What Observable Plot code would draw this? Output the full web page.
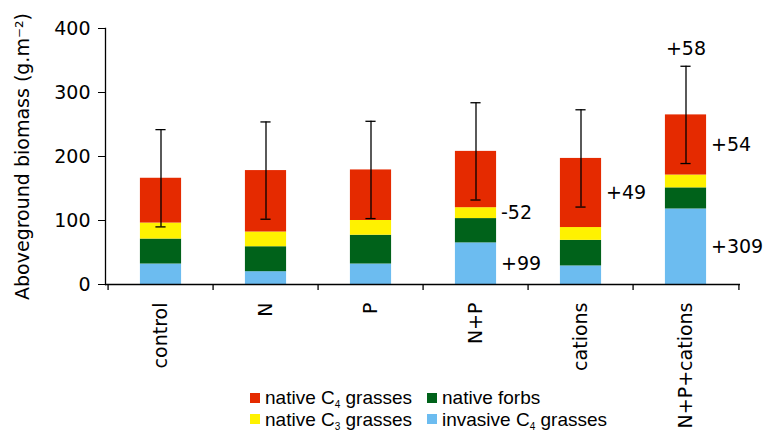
<!DOCTYPE html>
<html><head><meta charset="utf-8">
<script src="https://cdn.jsdelivr.net/npm/d3@7"></script>
<script src="https://cdn.jsdelivr.net/npm/@observablehq/plot@0.6"></script>
<style>
body{margin:0;background:#fff;}
#wrap{position:relative;width:763px;height:430px;overflow:hidden;}
#legend{position:absolute;left:250px;top:387px;font-family:"Liberation Sans",Arial,sans-serif;font-size:19px;color:#000;line-height:21.5px;}
#legend .row{display:flex;white-space:nowrap;}
#legend .item{display:flex;align-items:center;}
#legend .item.c1{width:177px;}
#legend .sw{width:10px;height:10px;margin-right:5px;display:inline-block;flex:none;}
#legend .lab{white-space:pre;}
#legend sub{font-size:10px;vertical-align:-4px;line-height:0;}
</style></head><body><div id="wrap"><div id="legend"></div></div><script>
const categories = ["control", "N", "P", "N+P", "cations", "N+P+cations"];
const invasiveC4 = [32, 20, 32, 65, 29, 118];
const nativeForbs = [39, 39, 45, 38, 40, 33];
const nativeC3 = [25, 23, 23, 17, 20, 20];
const nativeC4 = [70, 96, 79, 88, 108, 94];
const errorSE = [76, 76, 76, 76, 76, 76];
const seriesNames = ["invasive C4 grasses", "native forbs", "native C3 grasses", "native C4 grasses"];
const seriesColors = ["#6cbcf0", "#00621a", "#fff200", "#e52a00"];
const yTicks = [0, 100, 200, 300, 400];
const annotCategories = ["N+P", "N+P", "cations", "N+P+cations", "N+P+cations", "N+P+cations"];
const annotSeries = ["invasive C4 grasses", "native C3 grasses", "native C4 grasses", "native C4 grasses", "invasive C4 grasses", "total"];
const annotLabels = ["+99", "-52", "+49", "+54", "+309", "+58"];

const W = 763, H = 430, mL = 105, mR = 23, mT = 28, mB = 146;
const bw = (W - mL - mR) / categories.length;
const barW = 42;
const inset = (bw - barW) / 2;

const seriesValues = [invasiveC4, nativeForbs, nativeC3, nativeC4];
const rows = [];
categories.forEach((c, i) => seriesNames.forEach((s, j) => rows.push({category: c, series: s, value: seriesValues[j][i]})));
const totals = categories.map((c, i) => seriesValues.reduce((a, v) => a + v[i], 0));
const errRows = categories.map((c, i) => ({category: c, lo: totals[i] - errorSE[i], hi: totals[i] + errorSE[i]}));

// annotation positions from stack midpoints
const annots = annotLabels.map((lab, k) => {
  const i = categories.indexOf(annotCategories[k]);
  const s = annotSeries[k];
  if (s === "total") return {category: annotCategories[k], y: totals[i] + errorSE[i], label: lab, top: true};
  const j = seriesNames.indexOf(s);
  let base = 0;
  for (let q = 0; q < j; q++) base += seriesValues[q][i];
  return {category: annotCategories[k], y: base + seriesValues[j][i] / 2, label: lab, top: false};
});

const font = "DejaVu Sans";
const chart = Plot.plot({
  width: W, height: H,
  marginLeft: mL, marginRight: mR, marginTop: mT, marginBottom: mB,
  style: {fontFamily: font, fontSize: "19px", color: "#000", background: "transparent", overflow: "visible"},
  x: {domain: categories, padding: 0, label: null},
  y: {domain: [0, 400], label: null},
  color: {domain: seriesNames, range: seriesColors},
  marks: [
    Plot.barY(rows, {x: "category", y: "value", fill: "series", order: seriesNames, insetLeft: inset, insetRight: inset}),
    Plot.ruleX(errRows, {x: "category", y1: "lo", y2: "hi", stroke: "#000", strokeWidth: 1.3}),
    Plot.tickY(errRows, {x: "category", y: "lo", stroke: "#000", strokeWidth: 1.3, insetLeft: (bw - 11) / 2, insetRight: (bw - 11) / 2}),
    Plot.tickY(errRows, {x: "category", y: "hi", stroke: "#000", strokeWidth: 1.3, insetLeft: (bw - 11) / 2, insetRight: (bw - 11) / 2}),
    Plot.frame({anchor: "left", stroke: "#000", strokeWidth: 1.3}),
    Plot.ruleY([0], {stroke: "#000", strokeWidth: 1.3}),
    Plot.ruleX(categories, {x: d => d, dx: -bw / 2, y1: 0, y2: 0, insetBottom: -6, stroke: "#000", strokeWidth: 1.3}),
    Plot.ruleX(categories.slice(-1), {x: d => d, dx: bw / 2, y1: 0, y2: 0, insetBottom: -6, stroke: "#000", strokeWidth: 1.3}),
    Plot.axisY({ticks: yTicks, tickSize: 7, tickPadding: 8, tickFormat: d => String(d), fontSize: 19, label: "Aboveground biomass (g.m⁻²)", labelAnchor: "center", labelArrow: "none", labelOffset: 90}),
    Plot.axisX({tickSize: 0, tickPadding: 18, tickRotate: -90, fontSize: 19, label: null}),
    Plot.text(annots.filter(d => !d.top), {x: "category", y: "y", text: "label", textAnchor: "start", dx: barW / 2 + 4, fontSize: 19, fill: "#000"}),
    Plot.text(annots.filter(d => d.top), {x: "category", y: "y", text: "label", textAnchor: "middle", dy: -17, fontSize: 19, fill: "#000"})
  ]
});
document.getElementById("wrap").prepend(chart);

// legend (HTML, placed over the bottom of the SVG area)
const legendOrder = [["native C4 grasses", "native forbs"], ["native C3 grasses", "invasive C4 grasses"]];
const fmt = s => s.replace(/C([34])/, "C<sub>$1</sub>");
const lg = document.getElementById("legend");
lg.innerHTML = legendOrder.map(r => `<div class="row">${r.map((s, k) => `<div class="item ${k === 0 ? "c1" : ""}"><span class="sw" style="background:${seriesColors[seriesNames.indexOf(s)]}"></span><span class="lab">${fmt(s)}</span></div>`).join("")}</div>`).join("");
</script></body></html>
